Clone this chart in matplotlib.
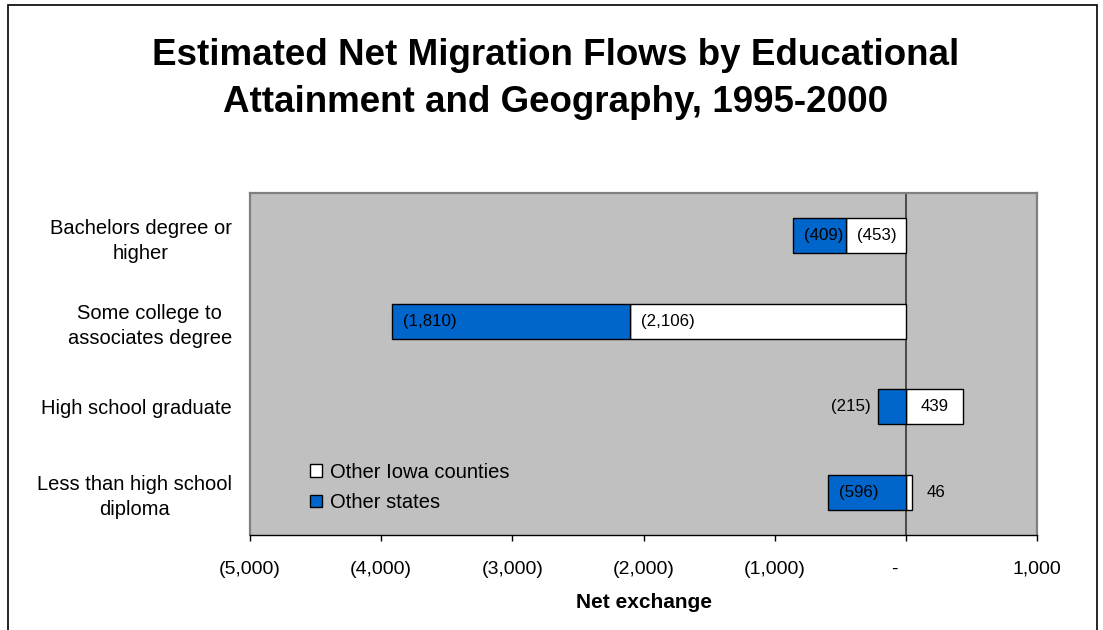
import matplotlib
matplotlib.use('Agg')
import matplotlib.pyplot as plt
from matplotlib.patches import Patch, Rectangle

plt.rcParams['font.family'] = ['Liberation Sans', 'DejaVu Sans']

# categories top to bottom
categories = ['Bachelors degree or\nhigher',
              'Some college to\nassociates degree',
              'High school graduate',
              'Less than high school\ndiploma']
series_names = ['Other Iowa counties', 'Other states']
iowa_counties = [-453, -2106, 439, 46]
other_states = [-409, -1810, -215, -596]
xticks = [-5000, -4000, -3000, -2000, -1000, 0, 1000]

COL_IOWA = '#FFFFFF'
COL_STATES = '#0066CC'
PLOT_BG = '#C0C0C0'

W, H = 1103, 630
fig = plt.figure(figsize=(W / 100, H / 100), dpi=100, facecolor='white')
ax = fig.add_axes([250 / W, (H - 535) / H, 787 / W, 342 / H])
ax.set_facecolor(PLOT_BG)
ax.set_xlim(-5000, 1000)
ax.set_ylim(3.5, -0.5)


def acct(v, zero='-'):
    if v == 0:
        return zero
    s = f'{abs(v):,.0f}'
    return f'({s})' if v < 0 else s


# stack like a spreadsheet: positives grow right, negatives grow left
pos_base = [0.0] * len(categories)
neg_base = [0.0] * len(categories)
segments = []
for vals, col in [(iowa_counties, COL_IOWA), (other_states, COL_STATES)]:
    lefts = []
    for i, v in enumerate(vals):
        if v >= 0:
            lefts.append(pos_base[i]); pos_base[i] += v
        else:
            lefts.append(neg_base[i] + v); neg_base[i] += v
    ax.barh(range(len(categories)), [abs(v) for v in vals], left=lefts, height=0.41,
            color=col, edgecolor='black', linewidth=1, zorder=3)
    segments += [(i, l, v) for i, (l, v) in enumerate(zip(lefts, vals))]

ax.axvline(0, color='#404040', lw=1.3, zorder=2)

# data labels: inside the segment when it fits, otherwise just outside it
renderer = fig.canvas.get_renderer()
px_per_unit = ax.bbox.width / 6000
for i, left, v in segments:
    t = ax.text(0, i, acct(v), fontsize=12.2, va='center', zorder=5)
    tw = t.get_window_extent(renderer).width
    seg_px = abs(v) * px_per_unit
    if seg_px >= tw + 14:
        if v < 0:
            t.set_x(left + 11 / px_per_unit); t.set_ha('left')
        else:
            t.set_x(left + v / 2); t.set_ha('center')
    else:
        if v < 0:
            t.set_x(left - 7 / px_per_unit); t.set_ha('right')
        else:
            t.set_x(left + v + 15 / px_per_unit); t.set_ha('left')

# axes styling
for side in ('top', 'right', 'left'):
    ax.spines[side].set_color('#808080')
    ax.spines[side].set_linewidth(1.6)
ax.spines['bottom'].set_color('black')
ax.spines['bottom'].set_linewidth(1.0)

# accounting-style zero keeps trailing digit space, so the dash sits left of its tick
ax.set_xticks(xticks, [acct(v, zero='-\u2007\u2007') for v in xticks])
ax.tick_params(axis='x', direction='out', length=4.5, width=1, color='black',
               labelsize=14, pad=14)
ax.set_yticks(range(len(categories)), categories)
ax.tick_params(axis='y', length=0, labelsize=14.5, pad=13)
for lab in ax.get_yticklabels():
    lab.set_multialignment('center')
    lab.set_linespacing(1.4)

ax.set_xlabel('Net exchange', fontsize=15, fontweight='bold', va='center')
ax.xaxis.set_label_coords(0.5, (535 - 602) / 342)

handles = [Patch(facecolor=COL_IOWA, edgecolor='black', lw=1),
           Patch(facecolor=COL_STATES, edgecolor='black', lw=1)]
ax.legend(handles, series_names, loc='center left', bbox_to_anchor=(60 / 787, 47.5 / 342),
          frameon=False, fontsize=14.5, handlelength=0.6, handleheight=0.6,
          handletextpad=0.4, labelspacing=0.55, borderpad=0, borderaxespad=0)

fig.text(556 / W, 1 - 79 / H,
         'Estimated Net Migration Flows by Educational\nAttainment and Geography, 1995-2000',
         ha='center', va='center', fontsize=26.5, fontweight='bold', linespacing=1.45)

# outer chart frame
fig.patches.append(Rectangle((8 / W, -0.05), (1097 - 8) / W, 1.05 - 5 / H,
                             transform=fig.transFigure, fill=False,
                             edgecolor='black', lw=1.2))

fig.savefig('out.png', dpi=100, facecolor='white')
